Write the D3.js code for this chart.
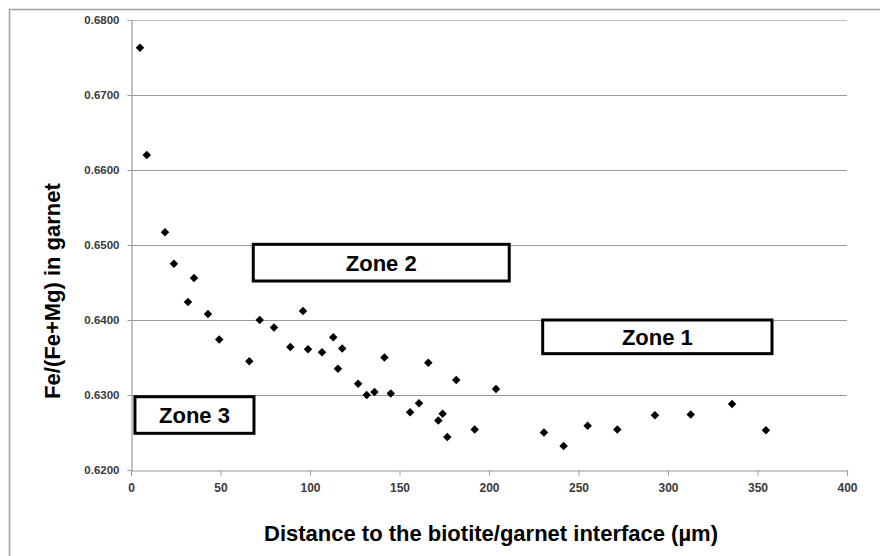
<!DOCTYPE html>
<html>
<head>
<meta charset="utf-8">
<script src="https://cdn.jsdelivr.net/npm/d3@7"></script>
<style>
  body { margin: 0; background: #fff; }
  svg { display: block; font-family: "Liberation Sans", Arial, sans-serif; }
</style>
</head>
<body>
<div class="canvas"></div>
<script>
// distance to the interface (µm) and Fe/(Fe+Mg)
const distance = [5.0, 8.8, 19.0, 24.0, 35.2, 31.8, 43.0, 49.3, 66.1, 71.9,
  79.9, 89.0, 96.1, 98.9, 106.7, 113.0, 115.6, 118.0, 126.9, 131.7,
  136.0, 141.6, 145.1, 155.9, 160.9, 166.1, 171.7, 174.1, 176.7, 181.7,
  192.0, 203.9, 230.7, 241.7, 255.1, 271.7, 292.7, 312.7, 335.8, 354.7];
const feRatio = [0.6763, 0.6620, 0.6517, 0.6475, 0.6456, 0.6424, 0.6408, 0.6374, 0.6345, 0.6400,
  0.6390, 0.6364, 0.6412, 0.6361, 0.6357, 0.6377, 0.6335, 0.6362, 0.6315, 0.6300,
  0.6304, 0.6350, 0.6302, 0.6277, 0.6289, 0.6343, 0.6266, 0.6275, 0.6244, 0.6320,
  0.6254, 0.6308, 0.6250, 0.6232, 0.6259, 0.6254, 0.6273, 0.6274, 0.6288, 0.6253];

const xTicks = [0, 50, 100, 150, 200, 250, 300, 350, 400];
const yTicks = [0.62, 0.63, 0.64, 0.65, 0.66, 0.67, 0.68];

// zone boxes in data units
const zoneNames = ["Zone 1", "Zone 2", "Zone 3"];
const zoneX = [[230.0, 358.1], [68.3, 211.3], [2.2, 68.7]];
const zoneY = [[0.6400, 0.63551], [0.65009, 0.6452], [0.62977, 0.62489]];

const width = 880, height = 556;
const margin = { top: 20, right: 33, bottom: 86, left: 131 };

const svg = d3.select(".canvas").append("svg")
  .attr("width", width)
  .attr("height", height);

// chart frame
svg.append("rect")
  .attr("x", 9.5).attr("y", 9.5)
  .attr("width", width + 20).attr("height", height + 20)
  .attr("fill", "#fff")
  .attr("stroke", "#a0a0a0")
  .attr("stroke-width", 1.5);

const x = d3.scaleLinear().domain([0, 400]).range([margin.left, width - margin.right]);
const y = d3.scaleLinear().domain([0.62, 0.68]).range([height - margin.bottom, margin.top]);

// gridlines
svg.append("g")
  .selectAll("line")
  .data(yTicks.slice(1))
  .join("line")
  .attr("x1", x(0)).attr("x2", x(400))
  .attr("y1", d => Math.round(y(d)) + 0.5)
  .attr("y2", d => Math.round(y(d)) + 0.5)
  .attr("stroke", (d, i) => i === yTicks.length - 2 ? "#bdbdbd" : "#9a9a9a")
  .attr("stroke-width", 1.2);

// axes
const xAxis = d3.axisBottom(x).tickValues(xTicks).tickSize(5).tickPadding(8).tickFormat(d3.format("d"));
const yAxis = d3.axisLeft(y).tickValues(yTicks).tickSize(4).tickPadding(8).tickFormat(d3.format(".4f"));

const gx = svg.append("g")
  .attr("transform", `translate(0,${Math.round(y(0.62)) + 0.5})`)
  .call(xAxis);
const gy = svg.append("g")
  .attr("transform", `translate(${margin.left + 0.5},0)`)
  .call(yAxis);

[gx, gy].forEach(g => {
  g.select(".domain").attr("stroke", "#9a9a9a").attr("stroke-width", 1.2);
  g.selectAll(".tick line").attr("stroke", "#9a9a9a");
  g.selectAll(".tick text")
    .attr("fill", "#3a3a3a")
    .attr("font-size", 12)
    .attr("font-weight", "bold")
    .attr("font-family", "'Liberation Sans', Arial, sans-serif");
});
gy.selectAll(".tick text").attr("font-size", 11.5);

// points
const diamond = d3.symbol().type(d3.symbolSquare).size(36);
svg.append("g")
  .selectAll("path")
  .data(distance.map((d, i) => [d, feRatio[i]]))
  .join("path")
  .attr("d", diamond)
  .attr("transform", d => `translate(${x(d[0])},${y(d[1])}) rotate(45)`)
  .attr("fill", "#000");

// zone boxes
const zones = svg.append("g")
  .selectAll("g")
  .data(zoneNames)
  .join("g");

zones.append("rect")
  .attr("x", (d, i) => x(zoneX[i][0]))
  .attr("y", (d, i) => y(zoneY[i][0]))
  .attr("width", (d, i) => x(zoneX[i][1]) - x(zoneX[i][0]))
  .attr("height", (d, i) => y(zoneY[i][1]) - y(zoneY[i][0]))
  .attr("fill", "#fff")
  .attr("stroke", "#000")
  .attr("stroke-width", 3);

zones.append("text")
  .attr("x", (d, i) => (x(zoneX[i][0]) + x(zoneX[i][1])) / 2)
  .attr("y", (d, i) => (y(zoneY[i][0]) + y(zoneY[i][1])) / 2 + 8)
  .attr("text-anchor", "middle")
  .attr("font-size", 22)
  .attr("font-weight", "bold")
  .text(d => d);

// axis titles
svg.append("text")
  .attr("x", (x(0) + x(400)) / 2 + 2)
  .attr("y", 541)
  .attr("text-anchor", "middle")
  .attr("font-size", 22)
  .attr("font-weight", "bold")
  .text("Distance to the biotite/garnet interface (µm)");

svg.append("text")
  .attr("transform", "translate(60,291) rotate(-90)")
  .attr("text-anchor", "middle")
  .attr("font-size", 22)
  .attr("font-weight", "bold")
  .text("Fe/(Fe+Mg) in garnet");
</script>
</body>
</html>
